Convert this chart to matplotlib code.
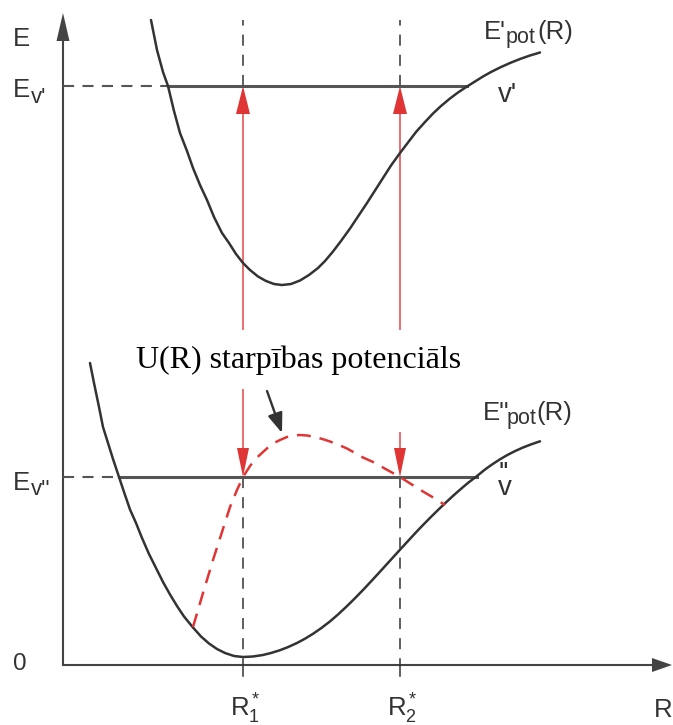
import matplotlib.pyplot as plt

plt.rcParams['lines.scale_dashes'] = False
plt.rcParams['mathtext.fontset'] = 'custom'
plt.rcParams['mathtext.rm'] = 'Liberation Sans'
plt.rcParams['mathtext.it'] = 'Liberation Sans:italic'

# excited state potential E'pot(R)
r_upper = [88, 94, 100, 105, 111, 117, 124, 130, 137, 144, 151, 159, 166, 173, 180, 187,
           195, 203, 211, 219, 228, 237, 246, 255, 262, 270, 278, 287, 295, 304, 312,
           320, 328, 337, 345, 353, 362, 370, 378, 387, 395, 404, 412, 420, 428, 437,
           447, 457, 467, 477]
e_upper = [645, 615, 593, 579, 554, 532, 514, 497, 480, 465, 448, 432, 422, 411, 402, 395,
           388.5, 384, 381, 380, 381, 384.5, 390, 397, 404, 413.5, 424, 436.5, 448.5, 462,
           474.5, 487, 499.5, 512, 522.5, 533, 543, 551.5, 559, 566.5, 572.5, 578.5, 583.5,
           588.5, 593, 597.5, 602, 606, 609.5, 612.5]

# ground state potential E''pot(R)
r_lower = [27, 31, 36, 40, 45, 50, 56, 61, 67, 73, 79, 86, 93, 100, 107, 114, 121, 130,
           138, 146, 154, 162, 171, 180, 190, 200, 208, 217, 225, 234, 242, 250, 258, 267,
           275, 284, 292, 300, 310, 319, 328, 337, 345, 352, 360, 367, 375, 382, 390, 397,
           405, 414, 422, 429, 437, 444, 452, 460, 468, 477]
e_lower = [302, 282, 258, 238, 222, 206, 188, 173, 155.5, 142, 127, 111, 97, 83, 70.5, 59,
           48.5, 37.5, 28.5, 21.5, 16, 12, 9, 8, 8.5, 10, 12, 14.8, 17.9, 22, 26.3, 31.2,
           36.7, 43.6, 50.5, 58.9, 66.8, 75, 85.7, 95.5, 105.4, 115.3, 124, 131.6, 140,
           147.1, 155, 161.7, 169.1, 175.3, 182.1, 189, 195.5, 200.5, 205.7, 209.8, 213.9,
           217.5, 220.6, 223.7]

# difference potential U(R)
r_diff = [130, 140, 150, 159, 167, 174, 180, 187, 194, 200, 205, 211, 217, 224, 230, 237,
          244, 252, 260, 267, 276, 284, 292, 300, 310, 319, 328, 337, 348, 360, 371, 382]
e_diff = [38, 72, 105, 133, 158, 175, 188, 199, 207.5, 213, 217.5, 222, 225, 228, 229.5,
          230, 229.5, 228, 225.8, 223.5, 220, 216.5, 212, 207.5, 203, 198, 193, 188, 181,
          173.5, 167, 160]

e_v1 = 579      # level v'
e_v2 = 188      # level v''
r_v1 = (104.7, 404)
r_v2 = (56, 414)
r_star = [180, 337]
up_start = 335
down_start = [276, 233]

black = '#333333'
grey = '#555555'
red = '#e03535'

fig = plt.figure(figsize=(6.73, 7.25), dpi=100)
ax = fig.add_axes([0, 0, 1, 1])
ax.set_xlim(-63, 610)
ax.set_ylim(-60, 665)
ax.axis('off')

# axes with arrows
ax.plot([0, 0], [0, 630], color='#444444', lw=1.5)
ax.plot([0, 590], [0, 0], color='#444444', lw=1.5)
ax.arrow(0, 600, 0, 52, width=0.1, head_width=13, head_length=28,
         length_includes_head=True, color='#444444', lw=0)
ax.arrow(580, 0, 29, 0, width=0.1, head_width=14, head_length=20,
         length_includes_head=True, color='#444444', lw=0)

# vertical dashed guides at R1*, R2*
for r in r_star:
    ax.plot([r, r], [e_v1, 645], color=black, lw=1.1, dashes=[8, 6.5])
    ax.plot([r, r], [e_v2, 0], color=black, lw=1.1, dashes=[8, 6.5])
    ax.plot([r, r], [0, -11], color=black, lw=1.1)

# vibrational levels
ax.plot([0, r_v1[0]], [e_v1, e_v1], color=grey, lw=1.5, dashes=[8, 6])
ax.plot(r_v1, [e_v1, e_v1], color=grey, lw=2.2)
ax.plot([0, r_v2[0]], [e_v2, e_v2], color=grey, lw=1.5, dashes=[8, 6])
ax.plot(r_v2, [e_v2, e_v2], color=grey, lw=2.2)

# potential curves
ax.plot(r_upper, e_upper, color=black, lw=1.8, solid_capstyle='round', solid_joinstyle='round')
ax.plot(r_lower, e_lower, color=black, lw=1.8, solid_capstyle='round', solid_joinstyle='round')
ax.plot(r_diff, e_diff, color=red, lw=1.8, dashes=[10, 6.5])

# transitions
for r in r_star:
    ax.arrow(r, up_start, 0, e_v1 - up_start, width=1.4, head_width=14, head_length=28,
             length_includes_head=True, color=red, lw=0)
for r, s in zip(r_star, down_start):
    ax.arrow(r, s, 0, e_v2 - s, width=1.4, head_width=12, head_length=29,
             length_includes_head=True, color=red, lw=0)

# pointer to U(R)
ax.annotate('', xy=(219, 232), xytext=(204, 274),
            arrowprops=dict(arrowstyle='-|>,head_length=1.2,head_width=0.45',
                            color=black, lw=1.7, shrinkA=0, shrinkB=0))

ax.text(236, 297, 'U(R) starpības potenciāls', family='Liberation Serif', fontsize=23,
        ha='center', va='baseline', color='black')

sans = dict(family='Liberation Sans', color=black, va='baseline', ha='left')
# energy axis labels
ax.text(-50, 619, 'E', fontsize=18.5, **sans)
ax.text(-50, 568, 'E', fontsize=18.5, **sans)
ax.text(-32, 562, "v'", fontsize=16, **sans)
ax.text(-50, 175, 'E', fontsize=18.5, **sans)
ax.text(-32, 170, "v''", fontsize=16, **sans)
ax.text(-50, -5, '0', fontsize=17.5, **sans)

# distance axis labels
ax.text(r_star[0] + 2, -52, r'$\mathrm{R_1^*}$', fontsize=18.5, ha='center', va='baseline',
        color=black)
ax.text(r_star[1] + 2, -52, r'$\mathrm{R_2^*}$', fontsize=18.5, ha='center', va='baseline',
        color=black)
ax.text(591, -52, 'R', fontsize=18.5, **sans)

# curve labels
ax.text(421, 626, "E'", fontsize=18.5, **sans)
ax.text(443, 622, 'pot', fontsize=15.5, **sans)
ax.text(474, 626, '(R)', fontsize=18.5, **sans)
ax.text(435, 563, "v'", fontsize=20, **sans)

ax.text(420, 245, "E''", fontsize=18.5, **sans)
ax.text(444, 241, 'pot', fontsize=15.5, **sans)
ax.text(473, 245, '(R)', fontsize=18.5, **sans)
ax.text(435, 170, "''\nv", fontsize=20, linespacing=0.4, **sans)

fig.savefig('out.png', dpi=100)
